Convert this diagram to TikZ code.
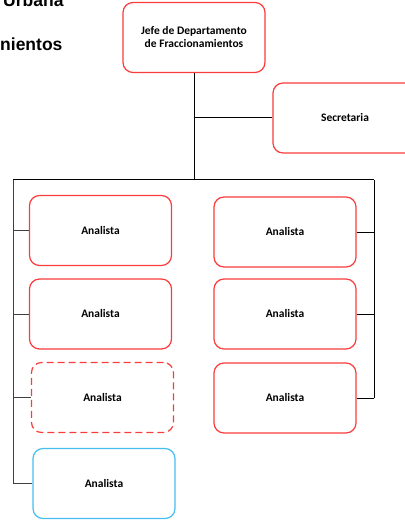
\documentclass[tikz,border=0pt]{standalone}
\usepackage{fontspec}
\setmainfont{Carlito}
\newfontfamily\titlefont{Liberation Sans}
\definecolor{boxred}{RGB}{250,60,60}
\definecolor{boxblue}{RGB}{70,190,240}
\tikzset{
    unit/.style={draw=boxred, line width=1.2pt, rounded corners=10pt,
        fill=white, minimum width=142pt, minimum height=70pt, align=center,
        font=\fontsize{11.5}{13}\selectfont\bfseries, inner sep=0pt},
    title/.style={anchor=base west, inner sep=0pt,
        font=\titlefont\fontsize{17.5}{21}\selectfont\bfseries},
    wire/.style={line width=1pt}
}
\begin{document}
\begin{tikzpicture}[x=1pt, y=-1pt]
\useasboundingbox (0, 0) rectangle (404, 521);

\node[title] (head1) at (3, 7) {Urbana};
\node[title] (head2) at (0, 51) {nientos};

\node[unit] (jefe) at (194, 37.5) {Jefe de Departamento\\de Fraccionamientos};
\node[unit, minimum width=144pt] (secre) at (345, 118) {Secretaria};

\node[unit] (anl1) at (100.5, 230.5) {Analista};
\node[unit] (anl2) at (100.5, 314) {Analista};
\node[unit, dashed, dash pattern=on 7pt off 4pt] (anl3) at (102.5, 397.5) {Analista};
\node[unit, draw=boxblue] (anl4) at (104, 483.5) {Analista};

\node[unit] (anr1) at (285, 232) {Analista};
\node[unit] (anr2) at (285, 314) {Analista};
\node[unit] (anr3) at (285, 398) {Analista};

\coordinate (busl) at (13, 180);
\coordinate (busr) at (374, 180);

\draw[wire] (jefe.south) -- (jefe.south |- busl);
\draw[wire] (jefe.south |- secre.west) -- (secre.west);
\draw[wire] (busl) -- (busr);

\draw[wire, black!75] (busl) -- (busl |- anl4.west);
\foreach \n in {anl1, anl2, anl3, anl4} {
    \draw[wire, black!75] (busl |- \n.west) -- (\n.west);
}

\draw[wire] (busr) -- (busr |- anr3.east);
\foreach \n in {anr1, anr2, anr3} {
    \draw[wire] (\n.east) -- (busr |- \n.east);
}
\end{tikzpicture}
\end{document}
